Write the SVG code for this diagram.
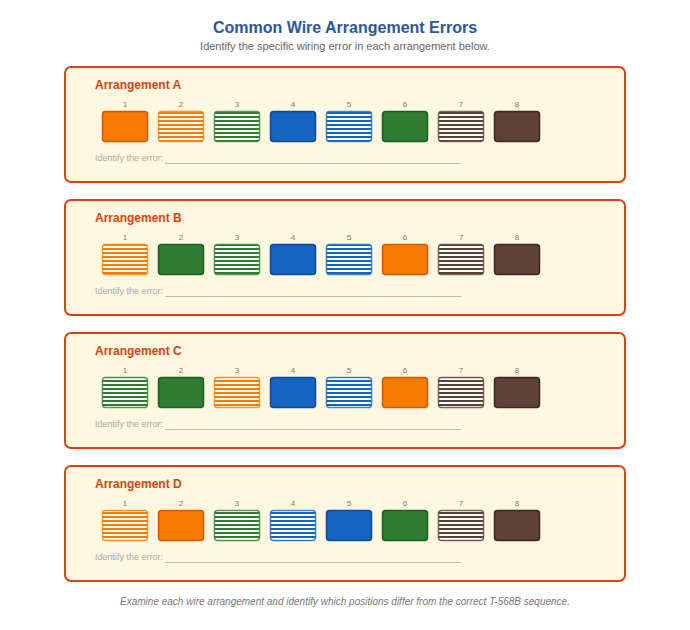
<svg xmlns="http://www.w3.org/2000/svg" width="690" height="630" viewBox="0 0 690 630">
<defs>
<pattern id="sO" patternUnits="userSpaceOnUse" width="4" height="4"><rect width="4" height="4" fill="#fff"/><rect width="4" height="2" fill="#f57c00"/></pattern>
<pattern id="sG" patternUnits="userSpaceOnUse" width="4" height="4"><rect width="4" height="4" fill="#fff"/><rect width="4" height="2" fill="#2e7d32"/></pattern>
<pattern id="sB" patternUnits="userSpaceOnUse" width="4" height="4"><rect width="4" height="4" fill="#fff"/><rect width="4" height="2" fill="#1565c0"/></pattern>
<pattern id="sN" patternUnits="userSpaceOnUse" width="4" height="4"><rect width="4" height="4" fill="#fff"/><rect width="4" height="2" fill="#5d4037"/></pattern>
</defs>
<style>
text{font-family:"Liberation Sans",Arial,sans-serif}
.title{font-size:16px;font-weight:bold;fill:#2b579a;text-anchor:middle}
.sub{font-size:11px;fill:#666;text-anchor:middle}
.foot{font-size:10px;font-style:italic;fill:#777;text-anchor:middle}
.panel{fill:#fff8e1;stroke:#d84315;stroke-width:2}
.ptitle{font-size:12px;font-weight:bold;fill:#d84315}
.num{font-size:8px;fill:#777;text-anchor:middle}
.idt{font-size:9px;fill:#aaa}
.line{stroke:#bbb;stroke-width:1}
.w{stroke-width:1.5}
.o{fill:#f57c00;stroke:#e65100}
.g{fill:#2e7d32;stroke:#1b5e20}
.b{fill:#1565c0;stroke:#0d47a1}
.n{fill:#5d4037;stroke:#3e2723}
.so{fill:url(#sO);stroke:#f57c00;stroke-opacity:.8}
.sg{fill:url(#sG);stroke:#2e7d32;stroke-opacity:.8}
.sb{fill:url(#sB);stroke:#1565c0;stroke-opacity:.8}
.sn{fill:url(#sN);stroke:#5d4037;stroke-opacity:.8}
</style>
<rect width="690" height="630" fill="#fff"/>
<text class="title" x="345" y="33">Common Wire Arrangement Errors</text>
<text class="sub" x="345" y="50">Identify the specific wiring error in each arrangement below.</text>

<g id="arrangement-a">
<rect class="panel" x="65" y="67" width="560" height="115" rx="6"/>
<text class="ptitle" x="95" y="89">Arrangement A</text>
<g class="nums"><text class="num" x="125" y="107">1</text><text class="num" x="181" y="107">2</text><text class="num" x="237" y="107">3</text><text class="num" x="293" y="107">4</text><text class="num" x="349" y="107">5</text><text class="num" x="405" y="107">6</text><text class="num" x="461" y="107">7</text><text class="num" x="517" y="107">8</text></g>
<rect class="w o" x="102.5" y="111.5" width="45" height="30" rx="3"/>
<rect class="w so" x="158.5" y="111.5" width="45" height="30" rx="3"/>
<rect class="w sg" x="214.5" y="111.5" width="45" height="30" rx="3"/>
<rect class="w b" x="270.5" y="111.5" width="45" height="30" rx="3"/>
<rect class="w sb" x="326.5" y="111.5" width="45" height="30" rx="3"/>
<rect class="w g" x="382.5" y="111.5" width="45" height="30" rx="3"/>
<rect class="w sn" x="438.5" y="111.5" width="45" height="30" rx="3"/>
<rect class="w n" x="494.5" y="111.5" width="45" height="30" rx="3"/>
<text class="idt" x="95" y="161">Identify the error:</text>
<line class="line" x1="165" y1="163.5" x2="461" y2="163.5"/>
</g>

<g id="arrangement-b">
<rect class="panel" x="65" y="200" width="560" height="115" rx="6"/>
<text class="ptitle" x="95" y="222">Arrangement B</text>
<g class="nums"><text class="num" x="125" y="240">1</text><text class="num" x="181" y="240">2</text><text class="num" x="237" y="240">3</text><text class="num" x="293" y="240">4</text><text class="num" x="349" y="240">5</text><text class="num" x="405" y="240">6</text><text class="num" x="461" y="240">7</text><text class="num" x="517" y="240">8</text></g>
<rect class="w so" x="102.5" y="244.5" width="45" height="30" rx="3"/>
<rect class="w g" x="158.5" y="244.5" width="45" height="30" rx="3"/>
<rect class="w sg" x="214.5" y="244.5" width="45" height="30" rx="3"/>
<rect class="w b" x="270.5" y="244.5" width="45" height="30" rx="3"/>
<rect class="w sb" x="326.5" y="244.5" width="45" height="30" rx="3"/>
<rect class="w o" x="382.5" y="244.5" width="45" height="30" rx="3"/>
<rect class="w sn" x="438.5" y="244.5" width="45" height="30" rx="3"/>
<rect class="w n" x="494.5" y="244.5" width="45" height="30" rx="3"/>
<text class="idt" x="95" y="294">Identify the error:</text>
<line class="line" x1="165" y1="296.5" x2="461" y2="296.5"/>
</g>

<g id="arrangement-c">
<rect class="panel" x="65" y="333" width="560" height="115" rx="6"/>
<text class="ptitle" x="95" y="355">Arrangement C</text>
<g class="nums"><text class="num" x="125" y="373">1</text><text class="num" x="181" y="373">2</text><text class="num" x="237" y="373">3</text><text class="num" x="293" y="373">4</text><text class="num" x="349" y="373">5</text><text class="num" x="405" y="373">6</text><text class="num" x="461" y="373">7</text><text class="num" x="517" y="373">8</text></g>
<rect class="w sg" x="102.5" y="377.5" width="45" height="30" rx="3"/>
<rect class="w g" x="158.5" y="377.5" width="45" height="30" rx="3"/>
<rect class="w so" x="214.5" y="377.5" width="45" height="30" rx="3"/>
<rect class="w b" x="270.5" y="377.5" width="45" height="30" rx="3"/>
<rect class="w sb" x="326.5" y="377.5" width="45" height="30" rx="3"/>
<rect class="w o" x="382.5" y="377.5" width="45" height="30" rx="3"/>
<rect class="w sn" x="438.5" y="377.5" width="45" height="30" rx="3"/>
<rect class="w n" x="494.5" y="377.5" width="45" height="30" rx="3"/>
<text class="idt" x="95" y="427">Identify the error:</text>
<line class="line" x1="165" y1="429.5" x2="461" y2="429.5"/>
</g>

<g id="arrangement-d">
<rect class="panel" x="65" y="466" width="560" height="115" rx="6"/>
<text class="ptitle" x="95" y="488">Arrangement D</text>
<g class="nums"><text class="num" x="125" y="506">1</text><text class="num" x="181" y="506">2</text><text class="num" x="237" y="506">3</text><text class="num" x="293" y="506">4</text><text class="num" x="349" y="506">5</text><text class="num" x="405" y="506">6</text><text class="num" x="461" y="506">7</text><text class="num" x="517" y="506">8</text></g>
<rect class="w so" x="102.5" y="510.5" width="45" height="30" rx="3"/>
<rect class="w o" x="158.5" y="510.5" width="45" height="30" rx="3"/>
<rect class="w sg" x="214.5" y="510.5" width="45" height="30" rx="3"/>
<rect class="w sb" x="270.5" y="510.5" width="45" height="30" rx="3"/>
<rect class="w b" x="326.5" y="510.5" width="45" height="30" rx="3"/>
<rect class="w g" x="382.5" y="510.5" width="45" height="30" rx="3"/>
<rect class="w sn" x="438.5" y="510.5" width="45" height="30" rx="3"/>
<rect class="w n" x="494.5" y="510.5" width="45" height="30" rx="3"/>
<text class="idt" x="95" y="560">Identify the error:</text>
<line class="line" x1="165" y1="562.5" x2="461" y2="562.5"/>
</g>

<text class="foot" x="345" y="605">Examine each wire arrangement and identify which positions differ from the correct T-568B sequence.</text>
</svg>
